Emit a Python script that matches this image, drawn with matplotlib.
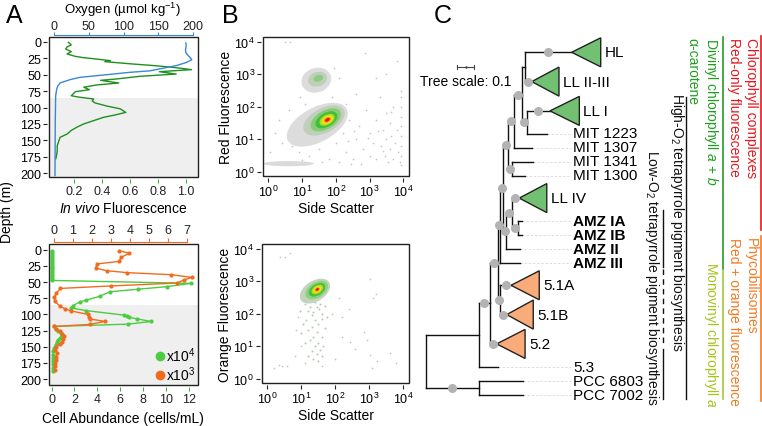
import matplotlib

matplotlib.use("Agg")

import matplotlib.pyplot as plt
import numpy as np
from matplotlib.lines import Line2D
from matplotlib.patches import Ellipse, Polygon, Rectangle

plt.rcParams["font.family"] = ["Liberation Sans", "DejaVu Sans"]
plt.rcParams["mathtext.fontset"] = "custom"
plt.rcParams["mathtext.rm"] = "Liberation Sans"
plt.rcParams["mathtext.it"] = "Liberation Sans:italic"
plt.rcParams["mathtext.bf"] = "Liberation Sans:bold"

# ---------- Panel A: profiles ----------
o2_depth = [1.5, 6, 12, 16, 21, 24, 27, 31, 36, 40, 44, 46.3, 50.4, 54, 57.5, 62.6, 67, 71.8, 82, 120, 204]
o2_value = [189.5, 190, 189, 189.5, 193, 196, 198, 191, 176, 157, 138, 109, 71, 37, 23, 8.6, 5.5, 3.9, 2.4, 1.8, 1.4]

fluor_depth = [0.5, 4.4, 7.6, 10.7, 14.7, 18.3, 22, 24, 26, 28.5, 30, 33.6, 36, 38.7, 42.2, 45.3,
               48.9, 52.4, 56.5, 58.5, 62.6, 65.6, 69, 72.8, 75.8, 82, 84, 87, 90, 93, 98, 102,
               107.4, 111.5, 115, 120, 125, 130, 135, 140.5, 145.5, 152, 158, 166, 173, 178]
fluor_value = [0.16, 0.18, 0.15, 0.14, 0.18, 0.15, 0.21, 0.27, 0.36, 0.46, 0.42, 0.62, 0.77, 0.91, 1.04, 0.81,
               0.93, 0.67, 0.50, 0.39, 0.52, 0.36, 0.27, 0.31, 0.21, 0.18, 0.23, 0.34, 0.33, 0.35, 0.44, 0.53,
               0.57, 0.49, 0.41, 0.34, 0.27, 0.22, 0.18, 0.15, 0.10, 0.09, 0.08, 0.08, 0.075, 0.07]

dcm_top = 86  # shaded layer below this depth

cells_g_depth = [2, 5, 8, 11, 14, 17, 20, 23, 26, 29, 32, 35, 38, 41, 44, 47.5,
                 52, 57, 61, 65, 72, 78, 80.5, 86.5, 90, 94, 101, 103, 104.5, 107, 110.8, 115,
                 118.5, 122, 125, 128, 131, 134, 137, 140, 143, 147, 152, 157, 162, 167, 172, 177, 182, 187]
cells_g_value = [0.08, 0.08, 0.08, 0.08, 0.08, 0.08, 0.08, 0.08, 0.08, 0.08, 0.08, 0.08, 0.08, 0.08, 0.08, 0.08,
                 12.2, 10.1, 7.6, 5.1, 4.2, 3.0, 2.5, 1.85, 1.7, 3.0, 6.3, 6.6, 6.8, 7.5, 8.7, 6.7,
                 0.25, 0.35, 0.6, 0.8, 0.95, 0.9, 0.7, 0.55, 0.45, 0.35, 0.22, 0.15, 0.12, 0.1, 0.1, 0.1, 0.1, 0.1]

cells_o_depth = [1.5, 5.5, 11.8, 18, 22, 28.3, 32.4, 35.5, 38.6, 42.8, 46.4, 51.5, 56, 59.8, 67, 73, 80,
                 86.6, 91, 94.6, 100, 104, 107, 110.8, 115.4, 118.5, 122, 126, 130, 134, 138, 142, 146,
                 150, 155, 160, 165, 170, 175, 180, 186]
cells_o_value = [3.45, 3.98, 3.54, 3.45, 2.28, 2.2, 2.78, 3.87, 6.19, 7.28, 6.88, 6.5, 3.0, 0.34, 0.13, 0.02, 0.05,
                 0.3, 0.56, 0.91, 1.8, 1.86, 1.9, 2.7, 1.9, 0.03, 0.1, 0.3, 0.45, 0.55, 0.5, 0.45, 0.3,
                 0.1, 0.08, 0.15, 0.12, 0.1, 0.08, 0.05, 0.05]

depth_ticks = [0, 25, 50, 75, 100, 125, 150, 175, 200]
fluor_ticks = [0.2, 0.4, 0.6, 0.8, 1.0]
o2_ticks = [0, 50, 100, 150, 200]
cells_ticks = [0, 2, 4, 6, 8, 10, 12]
cells_o_ticks = [0, 1, 2, 3, 4, 5, 6, 7]

# ---------- Panel B: flow cytometry (log10 units) ----------
decades = [0, 1, 2, 3, 4]
# density layers, outer -> inner: centre x, centre y, width, height, angle
red_main_x = [1.45, 1.65, 1.70, 1.72, 1.74, 1.75, 1.75, 1.75]
red_main_y = [1.45, 1.58, 1.60, 1.60, 1.60, 1.60, 1.60, 1.60]
red_main_w = [2.00, 1.35, 1.00, 0.72, 0.50, 0.36, 0.24, 0.15]
red_main_h = [1.05, 0.75, 0.56, 0.42, 0.30, 0.22, 0.15, 0.09]
red_main_a = [30, 30, 32, 32, 32, 32, 32, 32]
red_main_c = ["#dcdcdc", "#bfcfba", "#86cc72", "#3fbf3f", "#b3dc22", "#f3e60c", "#f6931c", "#e3120e"]

red_euk_x = [1.42, 1.46, 1.48]
red_euk_y = [2.82, 2.85, 2.88]
red_euk_w = [0.90, 0.58, 0.30]
red_euk_h = [0.75, 0.44, 0.20]
red_euk_a = [20, 20, 20]
red_euk_c = ["#dcdcdc", "#bfd0b9", "#8ecb85"]

red_band_x, red_band_y, red_band_w, red_band_h = 0.6, 0.25, 1.5, 0.16

red_dots_x = [0.49, 0.64, 2.86, 1.95, 2.10, 0.95, 1.10, 0.60, 0.30, 0.20, 0.40, 0.70, 0.90, 1.20, 1.50, 1.80,
              2.00, 2.20, 2.30, 2.40, 2.50, 2.60, 2.70, 2.80, 2.90, 3.00, 3.00, 3.10, 3.20, 3.20, 3.30, 3.35,
              3.40, 3.45, 3.50, 3.50, 3.55, 3.60, 3.60, 3.65, 3.70, 3.70, 3.75, 3.80, 3.85, 3.90, 3.93, 3.93,
              3.93, 3.93, 3.93, 3.93, 3.93, 3.93, 3.93, 3.80, 2.60, 2.30, 1.90, 1.60, 1.00, 0.10, 0.05, 2.10,
              2.45, 2.75, 3.20, 3.50, 2.35, 2.55, 2.95, 3.25, 3.40, 3.65]
red_dots_y = [4.00, 4.00, 3.67, 3.20, 2.90, 2.30, 2.10, 1.90, 1.60, 1.20, 0.90, 0.80, 0.60, 0.50, 0.70, 0.40,
              0.90, 1.20, 0.60, 1.60, 0.40, 1.00, 1.40, 0.70, 1.90, 0.50, 1.20, 0.90, 0.40, 1.60, 2.30, 0.80,
              1.30, 0.50, 1.00, 1.80, 0.30, 1.50, 0.70, 1.10, 0.40, 2.00, 0.90, 1.30, 0.60, 0.30, 0.50, 0.80,
              1.10, 1.40, 1.70, 2.00, 2.30, 2.50, 0.20, 3.40, 2.40, 2.10, 2.30, 0.30, 0.35, 0.25, 0.60, 0.30,
              0.25, 0.25, 2.90, 3.00, 0.95, 1.25, 1.05, 1.25, 0.65, 1.85]

org_main_x = [1.40, 1.45, 1.46, 1.47, 1.47, 1.47, 1.47]
org_main_y = [2.70, 2.73, 2.74, 2.75, 2.75, 2.75, 2.75]
org_main_w = [1.00, 0.75, 0.55, 0.38, 0.26, 0.17, 0.10]
org_main_h = [0.62, 0.46, 0.34, 0.24, 0.17, 0.11, 0.07]
org_main_a = [35, 35, 35, 35, 35, 35, 35]
org_main_c = ["#c3d3be", "#8ed27c", "#45c045", "#b3dc22", "#f3e60c", "#f6931c", "#e3120e"]

org_dots_x = [0.37, 0.52, 0.67, 0.18, 0.33, 0.43, 0.57, 3.03, 3.10, 3.20, 2.39, 2.10, 2.83, 2.93, 2.44, 2.59,
              3.03, 3.23, 3.07, 2.20, 1.90, 0.90, 0.85, 1.00, 0.80, 1.10, 1.60, 2.00, 2.20, 3.60, 3.80]
org_dots_y = [3.74, 3.74, 3.88, 0.33, 0.41, 0.38, 0.38, 3.08, 2.50, 2.60, 2.15, 2.50, 1.44, 1.18, 1.13, 0.92,
              0.72, 0.56, 0.33, 1.90, 2.00, 1.90, 1.50, 1.00, 0.70, 0.50, 0.40, 0.60, 1.30, 0.80, 0.50]
org_tail_x = [1.10, 1.20, 1.25, 1.30, 1.35, 1.15, 1.40, 1.30, 1.50, 1.20, 1.45, 1.35, 1.60, 1.25, 1.50, 1.40,
              1.55, 1.30, 1.45, 1.60, 1.20, 1.35, 1.50, 1.00, 1.70, 1.10, 1.65, 1.40, 1.55, 1.70, 0.95, 1.05,
              1.75, 1.60, 1.45, 1.28, 1.38, 1.52, 1.18, 1.62]
org_tail_y = [2.30, 2.10, 2.20, 1.95, 2.05, 1.80, 1.80, 1.60, 1.70, 1.50, 1.45, 1.30, 1.30, 1.20, 1.10, 1.00,
              0.90, 0.85, 0.75, 0.70, 0.70, 0.60, 0.55, 1.40, 1.55, 1.10, 1.00, 2.35, 2.30, 2.25, 2.10, 1.70,
              1.90, 2.00, 2.20, 2.45, 2.40, 2.15, 2.40, 1.85]

# ---------- Panel C: phylogeny ----------
leaf_names = ["HL", "LL II-III", "LL I", "MIT 1223", "MIT 1307", "MIT 1341", "MIT 1300", "LL IV",
              "AMZ IA", "AMZ IB", "AMZ II", "AMZ III", "5.1A", "5.1B", "5.2", "5.3", "PCC 6803", "PCC 7002"]
leaf_depth = [0.874, 0.635, 0.744, 0.725, 0.635, 0.644, 0.595, 0.560,
              0.575, 0.575, 0.565, 0.565, 0.511, 0.485, 0.425, 0.435, 0.581, 0.581]
clade_far = [1.048, 0.798, 0.920, None, None, None, None, 0.725,
             None, None, None, None, 0.680, 0.644, 0.595, None, None, None]
clade_kind = ["green", "green", "green", None, None, None, None, "green",
              None, None, None, None, "orange", "orange", "orange", None, None, None]
bold_leaves = ["AMZ IA", "AMZ IB", "AMZ II", "AMZ III"]

internal_nodes = {
    "A": (0.595, ["HL", "LL II-III"]),
    "B": (0.605, ["LL I", "MIT 1223"]),
    "C": (0.578, ["A", "B"]),
    "D": (0.529, ["C", "MIT 1307"]),
    "E": (0.515, ["MIT 1341", "MIT 1300"]),
    "F": (0.495, ["D", "E"]),
    "Q": (0.551, ["AMZ IA", "AMZ IB"]),
    "H": (0.515, ["LL IV", "Q"]),
    "I": (0.481, ["H", "AMZ II"]),
    "K": (0.463, ["F", "I"]),
    "J": (0.445, ["K", "AMZ III"]),
    "M": (0.445, ["5.1A", "5.1B"]),
    "L": (0.435, ["J", "M"]),
    "N": (0.385, ["L", "5.2"]),
    "O": (0.319, ["N", "5.3"]),
    "P": (0.319, ["PCC 6803", "PCC 7002"]),
    "root": (0.0, ["O", "P"]),
}
supported = ["HL", "LL II-III", "LL I", "B", "C", "D", "E", "F", "K", "J", "H", "Q", "LL IV",
             "I", "L", "M", "5.1A", "5.1B", "5.2", "N", "P"]
tree_scale = 0.1

# ---------- layout helpers ----------
W, H = 762, 427
PT = 72 / 100  # points per pixel at dpi 100


def box(l, t, r, b):
    return [l / W, 1 - b / H, (r - l) / W, (b - t) / H]


def framed(ax, gap=2):
    for s in ax.spines.values():
        s.set_visible(False)
    ax.spines["left"].set_position(("outward", gap * PT))
    ax.spines["bottom"].set_position(("outward", gap * PT))
    ax.add_patch(Rectangle((0, 0), 1, 1, transform=ax.transAxes, fill=False,
                           lw=1.0, ec="#222222", clip_on=False, zorder=6))


blue = "#3a86d8"
fl_green = "#1f8f1f"
cell_green = "#4ccc40"
cell_orange = "#f26b1d"
tick_green = "#33bb33"
tick_kw = dict(length=4 * PT, labelsize=9, pad=2 * PT)

fig = plt.figure(figsize=(W / 100, H / 100), dpi=100)

# ---------- A top ----------
axA1 = fig.add_axes(box(49, 38, 198, 178))
framed(axA1)
axA1.axhspan(dcm_top, 250, color="#efefef", lw=0, zorder=0)
axA1.plot(fluor_value, fluor_depth, color=fl_green, lw=1.0, zorder=3)
axA1.set_xlim(0.021, 1.086)
axA1.set_ylim(206, -7.6)
axA1.set_yticks(depth_ticks)
axA1.set_xticks(fluor_ticks, labels=[f"{v:.1f}" for v in fluor_ticks])
axA1.tick_params(axis="x", colors=tick_green, labelcolor="#222222", **tick_kw)
axA1.tick_params(axis="y", color="#222222", **tick_kw)

ax_o2 = axA1.twiny()
for k, s in ax_o2.spines.items():
    s.set_visible(k == "top")
ax_o2.spines["top"].set_position(("outward", 2.5 * PT))
ax_o2.spines["top"].set_color(blue)
ax_o2.spines["top"].set_bounds(0, 200)
ax_o2.plot(o2_value, o2_depth, color=blue, lw=1.0, zorder=3)
ax_o2.set_xlim(-7.2, 207)
ax_o2.set_xticks(o2_ticks)
ax_o2.tick_params(axis="x", colors=blue, labelcolor="#222222", length=3 * PT, labelsize=9, pad=0)

fig.text(123 / W, 1 - 0.5 / H, "Oxygen (µmol kg$^{-1}$)", ha="center", va="top", fontsize=9.5)
fig.text(123 / W, 1 - 209 / H, "$\\it{In\\ vivo}$ Fluorescence", ha="center", va="center", fontsize=10)

# ---------- A bottom ----------
axA2 = fig.add_axes(box(49, 245, 198, 386))
framed(axA2)
axA2.axhspan(dcm_top, 250, color="#efefef", lw=0, zorder=0)
axA2.plot(cells_g_value, cells_g_depth, color=cell_green, lw=1.0, marker="o", ms=2, zorder=3)
axA2.set_xlim(-0.22, 12.8)
axA2.set_ylim(209, -8.8)
axA2.set_yticks(depth_ticks)
axA2.set_xticks(cells_ticks)
axA2.tick_params(axis="x", colors=tick_green, labelcolor="#222222", **tick_kw)
axA2.tick_params(axis="y", color="#222222", **tick_kw)

ax_org = axA2.twiny()
for k, s in ax_org.spines.items():
    s.set_visible(k == "top")
ax_org.spines["top"].set_position(("outward", 2 * PT))
ax_org.spines["top"].set_color(cell_orange)
ax_org.spines["top"].set_bounds(0, 7)
ax_org.plot(cells_o_value, cells_o_depth, color=cell_orange, lw=1.0, marker="o", ms=2, zorder=4)
ax_org.set_xlim(-0.26, 7.6)
ax_org.set_xticks(cells_o_ticks)
ax_org.tick_params(axis="x", colors=cell_orange, labelcolor="#222222", **tick_kw)

handles = [Line2D([], [], ls="none", marker="o", ms=6, color=cell_green),
           Line2D([], [], ls="none", marker="o", ms=6, color=cell_orange)]
ax_org.legend(handles, ["x10$^4$", "x10$^3$"], loc="lower right", frameon=False, fontsize=10,
              handlelength=0.5, handletextpad=0.2, labelspacing=0.0, borderaxespad=0.0,
              borderpad=0.15)

fig.text(123 / W, 1 - 419 / H, "Cell Abundance (cells/mL)", ha="center", va="center", fontsize=10)
fig.text(7 / W, 1 - 212 / H, "Depth (m)", ha="center", va="center", rotation=90, fontsize=10)

# ---------- B ----------
dec_labels = [f"$10^{{{d}}}$" for d in decades]


def layers(ax, xs, ys, ws, hs, angs, cols):
    for x, y, w, h, a, c in zip(xs, ys, ws, hs, angs, cols):
        ax.add_patch(Ellipse((x, y), w, h, angle=a, fc=c, ec="none", zorder=2))


def flow_axes(rect, ylabel):
    ax = fig.add_axes(rect)
    framed(ax)
    ax.set_xlim(-0.16, 4.17)
    ax.set_ylim(-0.13, 4.15)
    ax.set_xticks(decades, labels=dec_labels)
    ax.set_yticks(decades, labels=dec_labels)
    ax.tick_params(color="#222222", **tick_kw)
    ax.set_ylabel(ylabel, fontsize=10, labelpad=1)
    ax.set_xlabel("Side Scatter", fontsize=10, labelpad=1)
    return ax


axB1 = flow_axes(box(263, 38, 409, 177), "Red Fluorescence")
axB1.scatter(red_dots_x, red_dots_y, s=1.5, color="#c4c4c4", lw=0, zorder=1)
axB1.add_patch(Ellipse((red_band_x, red_band_y), red_band_w, red_band_h, fc="#dadada", ec="none", zorder=1))
layers(axB1, red_main_x, red_main_y, red_main_w, red_main_h, red_main_a, red_main_c)
layers(axB1, red_euk_x, red_euk_y, red_euk_w, red_euk_h, red_euk_a, red_euk_c)

axB2 = flow_axes(box(262, 245, 409, 384), "Orange Fluorescence")
axB2.scatter(org_dots_x, org_dots_y, s=1.5, color="#c4c4c4", lw=0, zorder=1)
axB2.scatter(org_tail_x, org_tail_y, s=2, color="#b5c7b0", lw=0, zorder=1)
layers(axB2, org_main_x, org_main_y, org_main_w, org_main_h, org_main_a, org_main_c)

# ---------- C: tree ----------
px_per_unit = 167
root_px = 425.7
axC = fig.add_axes([420 / W, 0, (W - 420) / W, 1])
axC.set_xlim((420 - root_px) / px_per_unit, (W - root_px) / px_per_unit)
axC.set_ylim(H, 0)
axC.axis("off")

leaf_gap, clade_gap, mixed_gap = 14.0, 29.3, 22.6
pos = {}
y = 53.3
for i, name in enumerate(leaf_names):
    if i:
        a, b = clade_far[i - 1] is not None, clade_far[i] is not None
        y += clade_gap if (a and b) else (leaf_gap if not (a or b) else mixed_gap)
    pos[name] = (leaf_depth[i], y)


def place(name):
    if name in pos:
        return pos[name]
    d, kids = internal_nodes[name]
    ys = [place(k)[1] for k in kids]
    pos[name] = (d, (ys[0] + ys[-1]) / 2)
    return pos[name]


place("root")
lw_tree = 1.0
for name, (d, kids) in internal_nodes.items():
    ys = [pos[k][1] for k in kids]
    axC.plot([d, d], [min(ys), max(ys)], color="#111111", lw=lw_tree, solid_capstyle="projecting")
    for k in kids:
        kd, ky = pos[k]
        axC.plot([d, kd], [ky, ky], color="#111111", lw=lw_tree, solid_capstyle="projecting")
        if k in supported:
            axC.plot((d + kd) / 2, ky, "o", ms=6.5, color="#b3b3b3", mec="none", zorder=5)

label_x = (573 - root_px) / px_per_unit
clade_cols = {"green": "#72c172", "orange": "#f9ab7a"}
half = 14.5
for i, name in enumerate(leaf_names):
    d, ly = pos[name]
    if clade_far[i] is not None:
        far = clade_far[i]
        axC.add_patch(Polygon([(d, ly), (far, ly - half), (far, ly + half)], closed=True,
                              fc=clade_cols[clade_kind[i]], ec="#222222", lw=1.0, zorder=4))
        axC.text(far + 4 / px_per_unit, ly, name, ha="left", va="center", fontsize=11)
    else:
        axC.plot([d, label_x - 2 / px_per_unit], [ly, ly], color="#d8d8d8", lw=0.6, ls=(0, (3, 2)), zorder=1)
        axC.text(label_x, ly, name, ha="left", va="center", fontsize=11,
                 fontweight="bold" if name in bold_leaves else "normal")

# tree scale bar
sb0 = (457.3 - root_px) / px_per_unit
axC.plot([sb0, sb0 + tree_scale], [67.7, 67.7], color="#444444", lw=0.8)
axC.plot([sb0, sb0], [66, 69.5], color="#444444", lw=0.8)
axC.plot([sb0 + tree_scale, sb0 + tree_scale], [66, 69.5], color="#444444", lw=0.8)
axC.plot([sb0 + tree_scale / 2], [67.7], ".", ms=1.5, color="#444444")
axC.text(sb0 + tree_scale / 2, 81.7, "Tree scale: 0.1", ha="center", va="center", fontsize=10)

# ---------- trait annotations ----------
ov = fig.add_axes([0, 0, 1, 1])
ov.set_xlim(0, W)
ov.set_ylim(H, 0)
ov.axis("off")
ov.patch.set_alpha(0)

red, orange = "#e8161c", "#f47a20"
dv_green, mv_green = "#1f9e1f", "#a5c41e"
notes = [
    (677, 93, "High-O$_2$ tetrapyrrole pigment biosynthesis", "#111111"),
    (652, 150, "Low-O$_2$ tetrapyrrole pigment biosynthesis", "#111111"),
    (692, 38, "α-carotene", dv_green),
    (711, 38, "Divinyl chlorophyll $\\it{a}$ + $\\it{b}$", dv_green),
    (711, 262, "Monovinyl chlorophyll $\\it{a}$", mv_green),
    (734, 38, "Red-only fluorescence", red),
    (751, 38, "Chlorophyll complexes", red),
    (734, 238, "Red + orange fluorescence", orange),
    (751, 238, "Phycobilisomes", orange),
]
for x, y0, txt, col in notes:
    ov.text(x, y0, txt, rotation=270, ha="center", va="top", fontsize=10, color=col)

ov.plot([686, 686], [98, 400], color="#111111", lw=1.0)
ov.plot([662.7, 662.7], [211, 268], color="#111111", lw=1.0)
ov.plot([662.7, 662.7], [270, 346], color="#111111", lw=1.0, ls=(0, (4, 3)))
ov.plot([662.7, 662.7], [350, 400], color="#111111", lw=1.0)
ov.plot([723.3, 723.3], [38, 270], color="#2a9a2a", lw=1.2)
ov.plot([723.3, 723.3], [272, 400], color="#a8c83a", lw=1.2)
ov.plot([760.7, 760.7], [37, 231], color=red, lw=1.2)
ov.plot([760.7, 760.7], [237, 402], color=orange, lw=1.2)

# panel letters
for x, y0, letter in [(14, 16, "A"), (230, 16, "B"), (443, 16, "C")]:
    fig.text(x / W, 1 - y0 / H, letter, ha="center", va="center", fontsize=18)

fig.savefig("out.png", dpi=100)
